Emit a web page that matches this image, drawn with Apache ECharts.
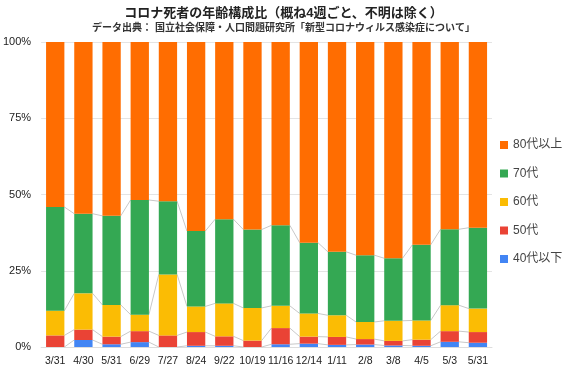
<!DOCTYPE html>
<html><head><meta charset="utf-8">
<script src="https://cdn.jsdelivr.net/npm/echarts@6/dist/echarts.min.js"></script>
<style>html,body{margin:0;padding:0;background:#fff}#c{width:567px;height:370px}</style>
</head><body><div id="c"></div>
<script>
const categories = ['3/31','4/30','5/31','6/29','7/27','8/24','9/22','10/19','11/16','12/14','1/11','2/8','3/8','4/5','5/3','5/31'];
const age40under = [0, 2.3, 0.9, 1.6, 0, 0.4, 0.4, 0, 0.9, 1.1, 0.7, 0.8, 0.5, 0.4, 1.7, 1.4];
const age50s     = [3.8, 3.4, 2.5, 3.6, 3.8, 4.5, 3.1, 2.1, 5.3, 2.3, 2.6, 1.8, 1.5, 2.0, 3.5, 3.5];
const age60s     = [8.1, 11.9, 10.4, 5.4, 20.0, 8.4, 10.8, 10.7, 7.3, 7.6, 7.1, 5.6, 6.6, 6.3, 8.5, 7.7];
const age70s     = [34.0, 26.1, 29.2, 37.6, 24.0, 24.7, 27.6, 25.7, 26.4, 23.2, 20.8, 21.9, 20.5, 24.8, 24.9, 26.5];
const age80over  = categories.map((c,i)=>+(100 - age40under[i] - age50s[i] - age60s[i] - age70s[i]).toFixed(1));
const seriesNames = ['40代以下','50代','60代','70代','80代以上'];
const colors = ['#4285F4','#EA4335','#FBBC04','#34A853','#FF6D01'];
const allSeries = [age40under, age50s, age60s, age70s, age80over];

// cumulative levels for connector lines
const levels = [];
let run = categories.map(()=>0);
for (let s = 0; s < 4; s++) {
  run = run.map((v,i)=>v + allSeries[s][i]);
  levels.push(run.slice());
}

const font = '"Liberation Sans", "Noto Sans CJK JP", sans-serif';
const chart = echarts.init(document.getElementById('c'));
const barSeries = allSeries.map((arr, s) => ({
  name: seriesNames[s], type: 'bar', stack: 'total', data: arr,
  barCategoryGap: '35%', itemStyle: {color: colors[s]}, z: 3
}));
const connector = {
  type: 'custom', name: 'conn', silent: true, z: 2,
  data: categories.slice(0, -1).map((c,i)=>[i]),
  renderItem: function(params, api) {
    const i = api.value(0);
    const bw = api.size([1, 0])[0] * 0.65 / 2;
    const children = levels.map(lv => {
      const p1 = api.coord([i, lv[i]]);
      const p2 = api.coord([i + 1, lv[i + 1]]);
      return {type: 'line', shape: {x1: p1[0] + bw, y1: p1[1], x2: p2[0] - bw, y2: p2[1]},
        style: {stroke: '#c8c8c8', lineWidth: 1}};
    });
    return {type: 'group', children: children};
  }
};
chart.setOption({
  animation: false,
  textStyle: {fontFamily: font},
  title: {
    text: 'コロナ死者の年齢構成比（概ね4週ごと、不明は除く）',
    subtext: 'データ出典： 国立社会保障・人口問題研究所「新型コロナウィルス感染症について」',
    left: 'center', top: 2, itemGap: 3,
    textStyle: {fontSize: 13, fontWeight: 'bold', color: '#222', fontFamily: font},
    subtextStyle: {fontSize: 10, fontWeight: 'bold', color: '#333', fontFamily: font}
  },
  legend: {
    orient: 'vertical', left: 495, top: 134, itemGap: 16.5,
    itemWidth: 8, itemHeight: 8, icon: 'rect',
    data: seriesNames.slice().reverse(),
    textStyle: {fontSize: 12, color: '#444', fontFamily: font}
  },
  grid: {left: 40, right: 75, top: 42, bottom: 23},
  xAxis: {
    type: 'category', data: categories,
    axisLine: {show: true, lineStyle: {color: '#ddd'}}, axisTick: {show: false},
    axisLabel: {fontSize: 10.5, color: '#222', margin: 9, interval: 0}
  },
  yAxis: {
    type: 'value', min: 0, max: 100, interval: 25,
    axisLabel: {formatter: '{value}%', fontSize: 11, color: '#222', margin: 10},
    splitLine: {lineStyle: {color: '#e4e4e4'}}
  },
  series: [...barSeries, connector]
});
</script></body></html>
